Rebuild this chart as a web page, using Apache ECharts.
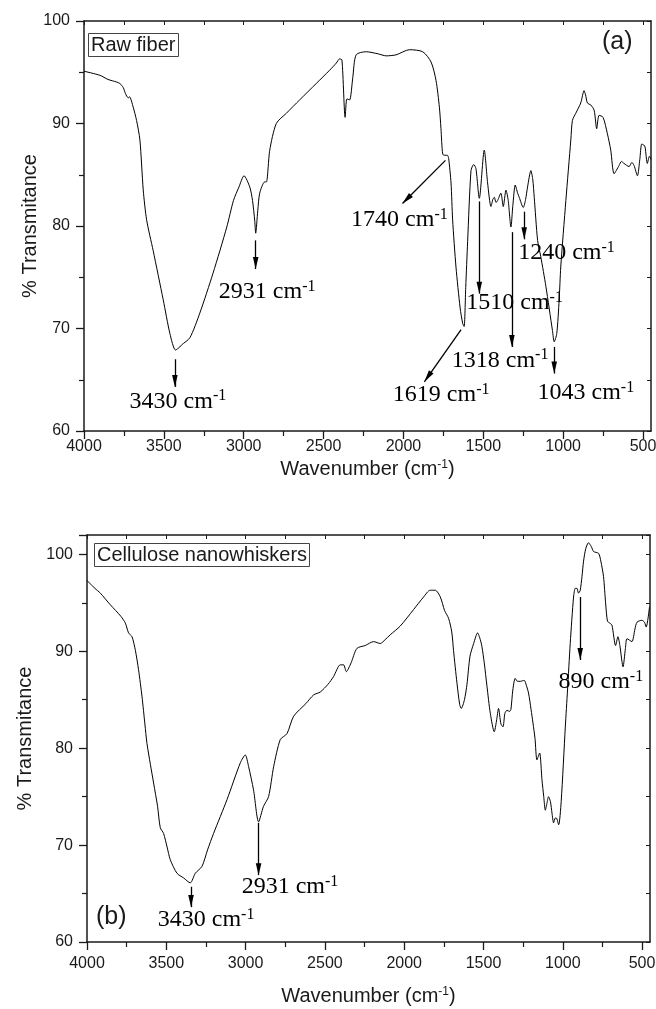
<!DOCTYPE html>
<html>
<head>
<meta charset="utf-8">
<script src="https://cdn.jsdelivr.net/npm/echarts@6/dist/echarts.min.js"></script>
<style>
  html, body { margin: 0; padding: 0; background: #fff; }
  #chart { width: 656px; height: 1009px; }
</style>
</head>
<body>
<div id="chart"></div>
<script>
// wavenumber ticks (cm-1)
const xMajor = [4000, 3500, 3000, 2500, 2000, 1500, 1000, 500];
const xMinor = [3750, 3250, 2750, 2250, 1750, 1250, 750];
const xAll = [4000, 3750, 3500, 3250, 3000, 2750, 2500, 2250, 2000, 1750, 1500, 1250, 1000, 750, 500];

// (a) raw fiber spectrum
const rawWn = [4000, 3900, 3850, 3796, 3775, 3754, 3740, 3723, 3715, 3692, 3671, 3650, 3629, 3608, 3567, 3504, 3462, 3427, 3400, 3389, 3337, 3275, 3192, 3106, 3064, 3030, 2998, 2962, 2945, 2931, 2925, 2912, 2900, 2869, 2858, 2837, 2796, 2733, 2650, 2546, 2462, 2420, 2400, 2385, 2365, 2354, 2337, 2317, 2296, 2233, 2160, 2108, 2046, 1962, 1879, 1827, 1796, 1775, 1765, 1754, 1740, 1725, 1717, 1702, 1692, 1671, 1645, 1629, 1620, 1610, 1598, 1577, 1560, 1546, 1525, 1494, 1473, 1452, 1440, 1431, 1420, 1410, 1390, 1375, 1358, 1344, 1327, 1315, 1300, 1285, 1275, 1250, 1235, 1223, 1202, 1190, 1181, 1160, 1140, 1108, 1067, 1056, 1040, 1025, 1015, 983, 952, 942, 921, 890, 869, 860, 848, 827, 806, 790, 775, 750, 723, 702, 681, 650, 635, 619, 587, 570, 556, 535, 520, 508, 495, 487, 473, 460, 450];
const rawT = [95.1, 94.7, 94.3, 94.05, 93.9, 93.5, 92.9, 92.5, 92.6, 91.6, 90.3, 88.4, 83.5, 80.6, 77.6, 72.8, 69.5, 67.9, 68.2, 68.4, 69.1, 71.5, 75.4, 79.9, 82.5, 83.8, 84.9, 83.8, 82.5, 80.5, 79.3, 81.5, 83.2, 84.3, 84.3, 87.4, 90.0, 91.0, 92.3, 93.9, 95.2, 95.9, 96.3, 96.2, 90.6, 92.4, 92.3, 94.5, 96.7, 97.0, 96.8, 96.6, 96.7, 97.2, 97.0, 96.0, 94.2, 91.6, 89.5, 87.0, 86.9, 86.9, 86.6, 84.2, 80.6, 76.0, 72.0, 70.5, 70.2, 74.0, 78.5, 85.4, 86.0, 85.6, 82.7, 87.4, 84.2, 81.9, 82.6, 82.8, 82.3, 82.5, 83.2, 81.9, 83.5, 82.5, 79.9, 82.0, 84.0, 83.2, 82.8, 81.8, 82.6, 83.8, 85.4, 84.5, 82.8, 78.6, 77.0, 74.1, 69.8, 68.7, 69.5, 72.8, 76.0, 82.5, 88.4, 90.3, 91.0, 92.0, 93.2, 92.8, 92.0, 91.8, 91.3, 89.5, 90.8, 90.6, 89.0, 87.4, 85.1, 85.9, 86.3, 86.1, 85.8, 86.2, 85.9, 84.9, 86.5, 88.0, 87.9, 87.7, 86.1, 86.8, 86.5];

// (b) cellulose nanowhiskers spectrum
const cnwWn = [4000, 3950, 3916, 3853, 3786, 3758, 3738, 3716, 3695, 3675, 3653, 3635, 3622, 3600, 3580, 3555, 3538, 3517, 3495, 3475, 3433, 3390, 3349, 3317, 3275, 3240, 3202, 3117, 3033, 3002, 2981, 2950, 2918, 2887, 2855, 2823, 2781, 2739, 2697, 2620, 2571, 2529, 2480, 2445, 2403, 2382, 2365, 2335, 2298, 2245, 2193, 2151, 2120, 2088, 2025, 1941, 1878, 1836, 1804, 1772, 1745, 1720, 1700, 1689, 1667, 1650, 1640, 1620, 1604, 1585, 1562, 1537, 1520, 1510, 1495, 1478, 1457, 1432, 1418, 1405, 1390, 1377, 1365, 1352, 1335, 1327, 1315, 1300, 1285, 1268, 1243, 1230, 1216, 1200, 1188, 1175, 1163, 1146, 1131, 1120, 1110, 1100, 1090, 1078, 1068, 1058, 1047, 1041, 1026, 1010, 984, 970, 953, 932, 921, 911, 901, 890, 879, 869, 855, 838, 820, 806, 774, 760, 743, 730, 718, 703, 690, 667, 652, 640, 620, 605, 595, 564, 545, 532, 501, 485, 474, 453];
const cnwT = [97.3, 96.5, 96.0, 94.8, 93.6, 92.9, 91.9, 91.5, 90.1, 88.1, 85.3, 82.5, 80.5, 78.3, 76.4, 74.0, 71.8, 71.2, 69.8, 68.5, 67.1, 66.6, 66.1, 67.1, 67.8, 69.5, 71.2, 74.7, 78.5, 79.3, 78.1, 75.7, 72.4, 74.0, 75.0, 78.1, 80.9, 81.5, 83.3, 84.6, 85.5, 85.8, 86.6, 87.4, 88.6, 88.6, 87.9, 88.8, 90.3, 90.6, 91.0, 90.8, 91.2, 91.7, 92.6, 94.3, 95.6, 96.3, 96.3, 95.6, 94.2, 93.4, 92.0, 90.1, 86.7, 84.5, 84.1, 85.0, 86.6, 89.5, 90.8, 91.9, 91.2, 90.5, 88.8, 86.4, 83.6, 81.7, 82.8, 84.1, 82.5, 82.2, 83.6, 83.9, 83.8, 84.0, 86.0, 87.2, 86.9, 86.9, 87.0, 86.5, 85.7, 84.0, 82.6, 81.0, 78.8, 79.5, 76.7, 75.0, 73.6, 74.3, 75.0, 74.5, 73.3, 72.3, 72.8, 72.8, 72.1, 74.5, 82.2, 86.0, 90.8, 95.6, 96.5, 96.5, 96.0, 96.3, 97.7, 99.3, 100.6, 101.2, 100.8, 100.3, 100.1, 99.3, 97.7, 95.0, 93.1, 92.9, 92.7, 90.6, 91.5, 90.6, 88.4, 90.3, 91.3, 91.0, 92.3, 93.0, 93.2, 93.0, 92.5, 94.6];

// peak annotations: arrow [from wn, from T, to wn, to T], label [wn, T, text]
const rawArrows = [
  [3431, 67.0, 3431, 64.3],
  [2925, 78.6, 2925, 75.8],
  [1737, 86.4, 2006, 82.2],
  [1525, 82.4, 1525, 73.4],
  [1321, 79.4, 1321, 68.2],
  [1244, 81.4, 1244, 78.7],
  [1639, 69.9, 1869, 64.8],
  [1056, 68.2, 1056, 65.6]
];
const rawLabels = [
  [3412, 62.9, '3430'], [2853, 73.6, '2931'], [2025, 80.6, '1740'], [1304, 72.5, '1510'],
  [1395, 66.9, '1318'], [979, 77.4, '1240'], [1764, 63.5, '1619'], [858, 63.7, '1043']
];
const cnwArrows = [
  [3344, 65.7, 3344, 63.6],
  [2918, 72.3, 2918, 66.9],
  [890, 95.6, 890, 89.1]
];
const cnwLabels = [
  [3249, 62.3, '3430'], [2720, 65.7, '2931'], [760, 86.9, '890']
];

const chart = echarts.init(document.getElementById('chart'));
const sans = 'Liberation Sans';
const serif = 'Liberation Serif';
const ink = '#1a1a1a';
const arrowHead = 'path://M0,0 M24,24 M12,12 L14.8,24 L9.2,24 Z';

function zip(xs, ys) { return xs.map((x, i) => [x, ys[i]]); }

function xAxes(grid, labelMargin, nameGap) {
  return [
    {
      gridIndex: grid, type: 'value', inverse: true, min: 450, max: 4000, position: 'bottom',
      name: '{a|Wavenumber (cm}{b|-1}{a|)}', nameLocation: 'middle', nameGap: nameGap, nameMoveOverlap: false,
      nameTextStyle: { rich: { a: { fontFamily: sans, fontSize: 20, color: ink }, b: { fontFamily: sans, fontSize: 12, color: ink, verticalAlign: 'top' } } },
      axisLine: { lineStyle: { color: ink, width: 1.5 } },
      axisTick: { show: true, length: 8, inside: false, customValues: xMajor, lineStyle: { color: ink, width: 1.3 } },
      axisLabel: { customValues: xMajor, margin: labelMargin, fontFamily: sans, fontSize: 16, color: ink, formatter: v => String(v) },
      splitLine: { show: false }
    },
    {
      gridIndex: grid, type: 'value', inverse: true, min: 450, max: 4000, position: 'bottom',
      axisLine: { show: false },
      axisTick: { show: true, length: 5, customValues: xMinor, lineStyle: { color: ink, width: 1.2 } },
      axisLabel: { show: false },
      splitLine: { show: false }
    },
    {
      gridIndex: grid, type: 'value', inverse: true, min: 450, max: 4000, position: 'top',
      axisLine: { lineStyle: { color: ink, width: 1.5 } },
      axisTick: { show: true, inside: true, length: 4, customValues: xAll, lineStyle: { color: ink, width: 1 } },
      axisLabel: { show: false },
      splitLine: { show: false }
    }
  ];
}

function yAxes(grid, max, nameGap) {
  return [
    {
      gridIndex: grid, type: 'value', min: 60, max: max, interval: 10, position: 'left',
      name: '% Transmitance', nameLocation: 'middle', nameGap: nameGap, nameMoveOverlap: false,
      nameTextStyle: { fontFamily: sans, fontSize: 20, color: ink },
      axisLine: { lineStyle: { color: ink, width: 1.5 } },
      axisTick: { show: true, length: 8, lineStyle: { color: ink, width: 1.3 } },
      minorTick: { show: true, splitNumber: 2, length: 5, lineStyle: { color: ink, width: 1.2 } },
      axisLabel: { margin: 14, fontFamily: sans, fontSize: 16, color: ink, formatter: v => (v > 100 ? '' : String(v)) },
      splitLine: { show: false }, minorSplitLine: { show: false }
    },
    {
      gridIndex: grid, type: 'value', min: 60, max: max, interval: 5, position: 'right',
      axisLine: { lineStyle: { color: ink, width: 1.5 } },
      axisTick: { show: true, inside: true, length: 4, lineStyle: { color: ink, width: 1 } },
      axisLabel: { show: false },
      splitLine: { show: false }
    }
  ];
}

function spectrum(data, xi, yi, arrows) {
  return {
    type: 'line', xAxisIndex: xi, yAxisIndex: yi, data: data,
    showSymbol: false, symbol: 'none', smooth: 0.25,
    lineStyle: { color: '#000', width: 1 },
    markLine: {
      silent: true, animation: false,
      symbol: ['none', arrowHead], symbolSize: 24,
      label: { show: false },
      lineStyle: { color: '#000', width: 1.3, type: 'solid' },
      data: arrows.map(a => [{ coord: [a[0], a[1]] }, { coord: [a[2], a[3]] }])
    },
    z: 3
  };
}

function peakLabels(labels, xi, yi) {
  return {
    type: 'scatter', xAxisIndex: xi, yAxisIndex: yi, data: labels,
    symbolSize: 0, silent: true,
    itemStyle: { opacity: 1 },
    label: {
      show: true, position: 'inside', color: '#000', opacity: 1,
      formatter: p => '{n|' + p.value[2] + ' cm}{s|-1}',
      rich: {
        n: { fontFamily: serif, fontSize: 24, color: '#000', lineHeight: 26 },
        s: { fontFamily: serif, fontSize: 16, color: '#000', verticalAlign: 'top', lineHeight: 14 }
      }
    },
    z: 4
  };
}

const boxStyle = { fontFamily: sans, fontSize: 20, fontWeight: 'normal', color: ink, lineHeight: 22 };

const option = {
  animation: false,
  backgroundColor: '#fff',
  title: [
    { text: 'Raw fiber', left: 88, top: 33, padding: [1, 3, 1, 3], borderWidth: 1, borderColor: '#444', textStyle: boxStyle },
    { text: '(a)', left: 602, top: 30, padding: 0, textStyle: { fontFamily: sans, fontSize: 25, fontWeight: 'normal', color: ink } },
    { text: 'Cellulose nanowhiskers', left: 94, top: 543, padding: [1, 3, 1, 3], borderWidth: 1, borderColor: '#444', textStyle: boxStyle },
    { text: '(b)', left: 96, top: 905, padding: 0, textStyle: { fontFamily: sans, fontSize: 25, fontWeight: 'normal', color: ink } }
  ],
  grid: [
    { left: 84, top: 21, width: 567, height: 410, outerBoundsMode: 'none', containLabel: false },
    { left: 87, top: 535, width: 563, height: 407, outerBoundsMode: 'none', containLabel: false }
  ],
  xAxis: [...xAxes(0, 8, 28), ...xAxes(1, 14, 44)],
  yAxis: [...yAxes(0, 100, 44), ...yAxes(1, 102, 52)],
  series: [
    spectrum(zip(rawWn, rawT), 0, 0, rawArrows),
    peakLabels(rawLabels, 0, 0),
    spectrum(zip(cnwWn, cnwT), 3, 2, cnwArrows),
    peakLabels(cnwLabels, 3, 2)
  ]
};

chart.setOption(option);
</script>
</body>
</html>
